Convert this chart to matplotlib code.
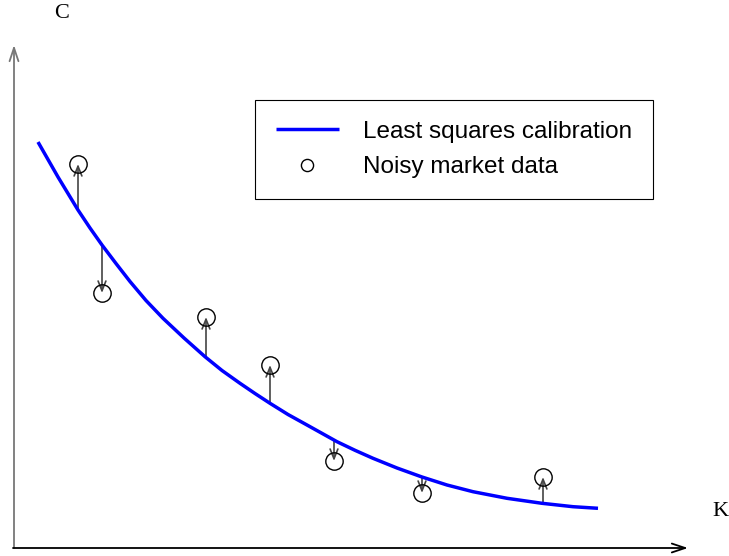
import matplotlib.pyplot as plt

# calibrated curve (K, C)
curve_k = [24, 44, 64, 76, 88, 102, 116, 132, 149, 170, 191, 208, 226, 241, 256,
           274, 293, 323, 341, 359, 383, 408, 433, 459, 493, 528, 559, 584]
curve_c = [406, 371, 338, 320, 303, 284.5, 266.5, 247.5, 229.7, 210, 191.3, 177.5,
           164.7, 154.5, 144.7, 133.5, 123, 106.3, 97.7, 89.7, 80, 71, 63, 56.3,
           49.7, 44.7, 41.3, 39.7]

# noisy market quotes and the model value at the same strike
market_k = [64, 88, 192, 256, 320, 408, 529]
market_c = [384, 255, 231, 183, 87, 55, 71]
model_c = [339, 304, 192, 145, 108, 71, 45]

fig = plt.figure(figsize=(7.29, 5.56), dpi=100)
ax = fig.add_axes([0, 0, 1, 1])
ax.set_xlim(-14, 715)
ax.set_ylim(-8, 548)
ax.axis('off')

# axes drawn as arrows
ax.annotate('', xy=(0, 503), xytext=(0, 0),
            arrowprops=dict(arrowstyle='->,head_length=0.6,head_width=0.2',
                            color='#777777', lw=1.3,
                            shrinkA=0, shrinkB=0, mutation_scale=16))
ax.annotate('', xy=(674, 0), xytext=(-1, 0),
            arrowprops=dict(arrowstyle='->,head_length=0.6,head_width=0.2',
                            color='black', lw=1.3,
                            shrinkA=0, shrinkB=0, mutation_scale=16))
ax.text(48, 534, 'C', fontsize=16, family='Liberation Serif', ha='center', va='center')
ax.text(706, 37, 'K', fontsize=16, family='Liberation Serif', ha='center', va='center')

ax.plot(curve_k, curve_c, color='#0000ff', lw=2.5, label='Least squares calibration',
        solid_capstyle='butt', solid_joinstyle='round', zorder=3)
ax.plot(market_k, market_c, 'o', mfc='none', mec='black', mew=1, ms=12.5,
        label='Noisy market data', zorder=4)

# residual arrows from model to market
for k, m, c in zip(market_k, model_c, market_c):
    ax.annotate('', xy=(k, c), xytext=(k, m),
                arrowprops=dict(arrowstyle='->,head_length=0.5,head_width=0.2',
                                color='#444444', lw=1.2,
                                shrinkA=0, shrinkB=0, mutation_scale=14), zorder=2)

leg = ax.legend(loc='upper left', bbox_to_anchor=(255 / 729, 1 - 100 / 556),
                prop={'family': 'Liberation Sans', 'size': 17.5},
                frameon=True, fancybox=False, framealpha=1,
                edgecolor='black', borderpad=0.85, handlelength=2.6,
                handletextpad=1.0, labelspacing=0.55, markerscale=0.7,
                borderaxespad=0)
leg.get_frame().set_linewidth(0.8)

plt.savefig('out.png')
